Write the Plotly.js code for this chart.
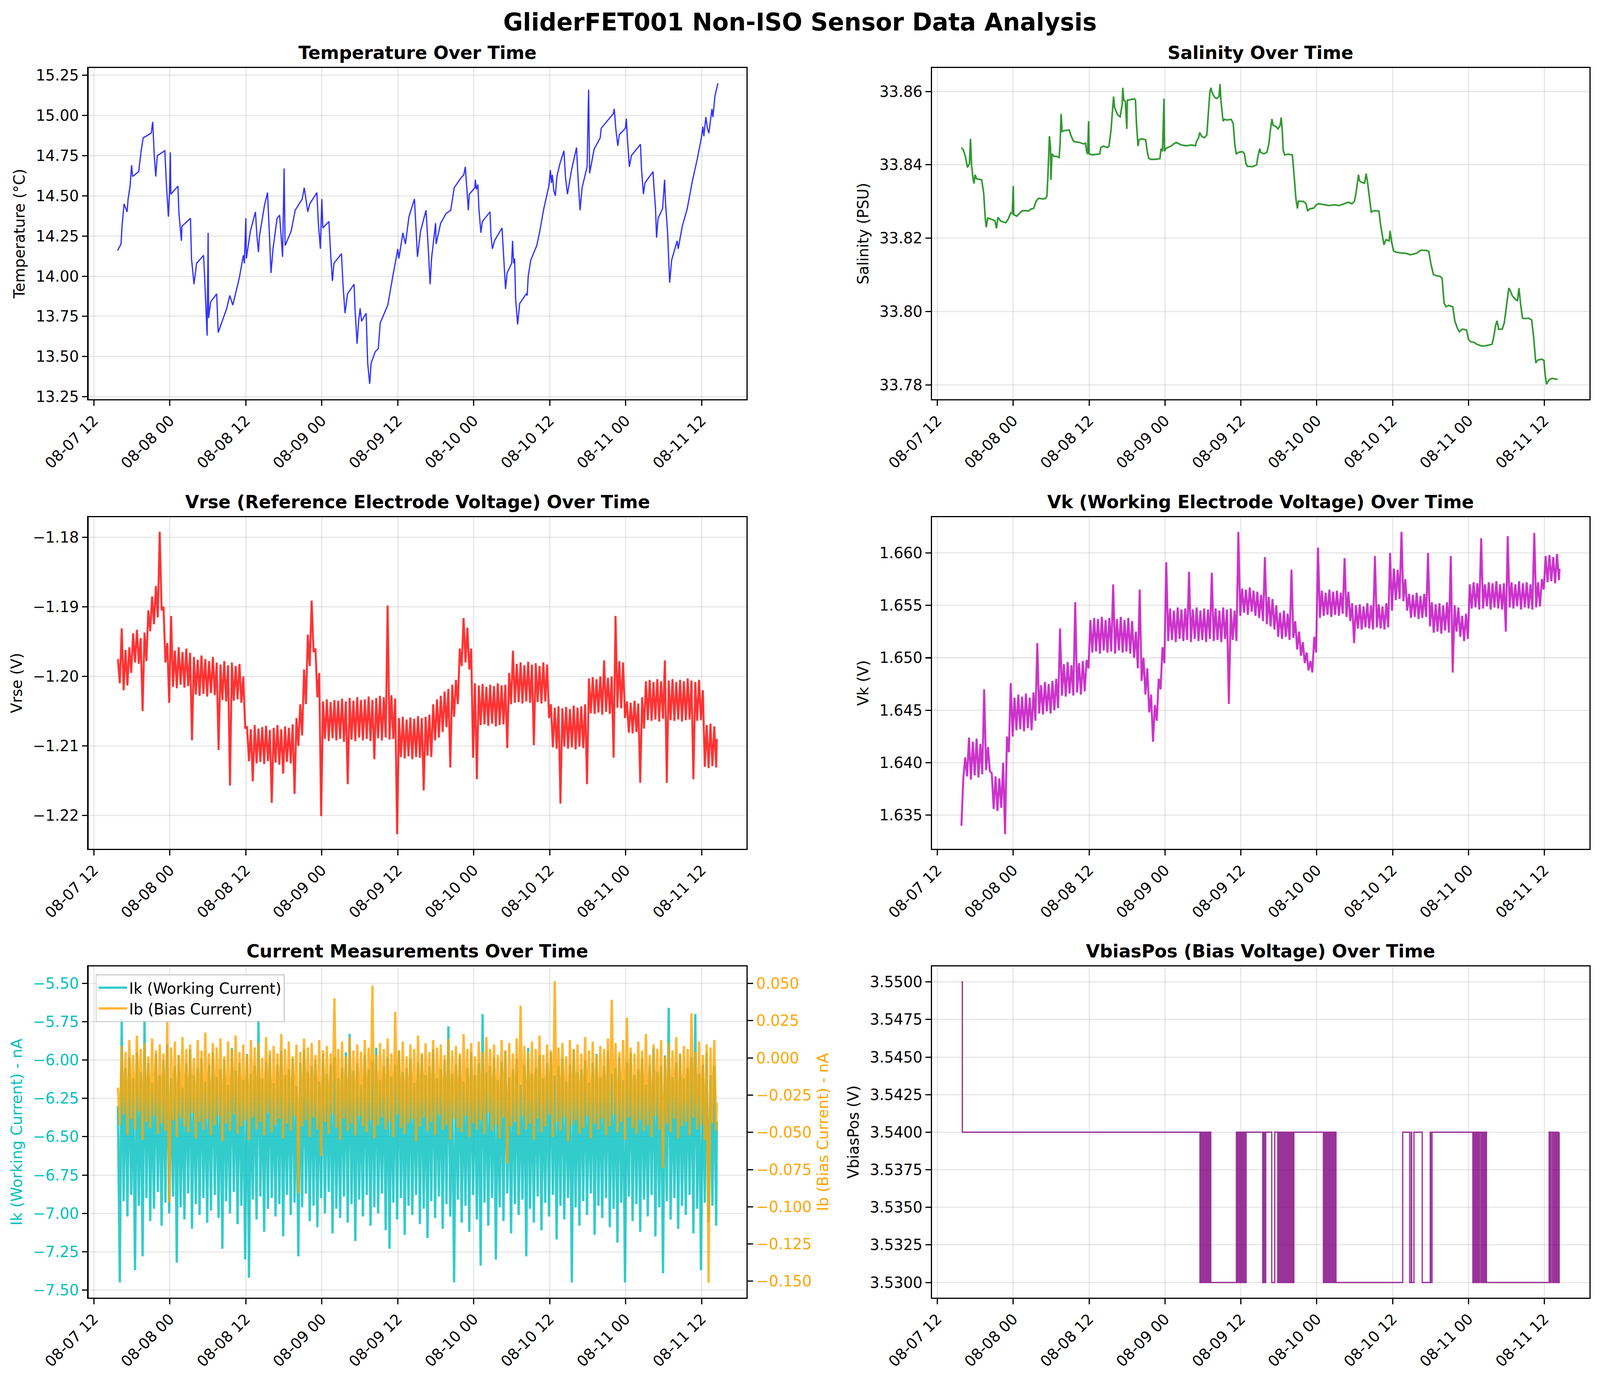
<!DOCTYPE html>
<html>
<head>
<meta charset="utf-8">
<title>GliderFET001 Non-ISO Sensor Data Analysis</title>
<script src="https://cdn.plot.ly/plotly-3.0.1.min.js"></script>
<style>
    html, body { margin: 0; padding: 0; background: #ffffff; overflow: hidden; }
    #chart { width: 100vw; height: 100vh; }
</style>
</head>
<body>
<div id="chart"></div>
<script>
// Hours are counted from 2025-08-07 12:00
const tempHours = [3.74,4.29,4.45,4.77,5.25,5.41,5.72,5.96,6.12,7.08,7.47,7.79,9.06,9.30,9.54,9.78,10.02,11.21,11.45,11.77,11.93,12.08,12.16,13.28,13.44,13.83,13.91,15.26,15.42,15.82,16.22,17.33,17.49,17.89,18.05,18.13,18.44,19.40,19.64,20.99,21.47,21.94,22.98,23.61,23.77,24.01,24.09,24.72,25.52,25.76,26.00,26.16,26.95,27.43,27.75,27.98,28.30,28.94,29.34,29.81,30.05,30.21,31.16,31.80,32.91,33.23,33.79,34.11,35.22,35.46,35.78,36.01,36.17,37.13,37.37,37.68,37.92,39.11,39.35,39.67,40.07,41.10,41.26,41.58,41.82,42.06,42.29,43.01,43.25,43.57,43.80,44.44,44.92,45.24,46.43,47.22,48.02,48.18,48.81,49.21,49.77,50.64,50.88,51.12,51.60,52.47,52.87,53.11,53.34,53.74,53.98,54.06,54.78,55.65,56.37,56.92,57.96,58.43,58.67,58.91,59.15,59.31,60.18,60.26,60.42,60.66,60.82,61.14,61.37,62.57,62.73,62.96,63.28,64.47,64.71,65.03,65.27,65.99,66.14,66.30,66.46,66.62,66.94,67.26,68.29,68.45,68.61,69.01,69.96,70.44,71.07,71.87,72.11,72.27,72.42,72.66,72.90,73.14,73.62,74.25,74.49,74.81,75.45,76.24,76.48,76.80,77.12,77.91,78.15,78.31,79.02,79.98,80.14,81.01,82.04,82.20,82.44,82.76,83.00,83.95,84.11,84.27,84.59,84.91,86.34,86.50,86.81,87.05,88.32,88.48,88.72,88.88,89.12,89.84,90.15,90.31,90.63,90.95,91.27,92.14,92.30,92.94,93.73,94.53,95.32,95.96,96.20,96.35,96.67,96.91,97.15,97.63,97.79,98.10,98.58];
const tempValues = [14.16,14.20,14.31,14.45,14.40,14.48,14.56,14.69,14.62,14.65,14.78,14.86,14.89,14.96,14.75,14.62,14.75,14.78,14.58,14.37,14.51,14.77,14.51,14.56,14.39,14.22,14.31,14.36,14.11,13.95,14.08,14.13,14.00,13.63,14.27,13.74,13.84,13.89,13.65,13.80,13.88,13.82,13.99,14.13,14.08,14.36,14.11,14.28,14.40,14.25,14.15,14.25,14.44,14.52,14.24,14.02,14.17,14.36,14.38,14.12,14.67,14.19,14.28,14.41,14.48,14.55,14.40,14.45,14.52,14.33,14.17,14.48,14.30,14.34,14.16,13.97,14.08,14.14,13.95,13.77,13.89,13.95,13.79,13.58,13.72,13.80,13.72,13.77,13.46,13.33,13.46,13.53,13.55,13.71,13.82,14.00,14.17,14.11,14.27,14.20,14.37,14.48,14.30,14.12,14.28,14.41,14.14,13.95,14.11,14.24,14.33,14.20,14.33,14.39,14.41,14.55,14.61,14.63,14.68,14.55,14.41,14.51,14.55,14.60,14.54,14.57,14.42,14.27,14.34,14.40,14.25,14.17,14.22,14.30,14.13,13.92,14.02,14.08,14.22,14.08,14.11,13.86,13.70,13.83,13.89,13.88,14.00,14.10,14.19,14.28,14.42,14.56,14.66,14.58,14.63,14.53,14.50,14.62,14.70,14.78,14.62,14.51,14.66,14.80,14.61,14.41,14.55,14.68,15.16,14.64,14.79,14.86,14.92,14.96,15.01,15.04,14.92,14.81,14.88,14.92,14.98,14.86,14.68,14.75,14.82,14.67,14.51,14.58,14.65,14.55,14.42,14.24,14.36,14.42,14.60,14.45,14.27,13.96,14.10,14.22,14.17,14.31,14.42,14.59,14.73,14.86,14.93,14.87,14.99,14.92,14.89,15.04,14.99,15.12,15.20];

const salHours = [3.79,4.11,4.43,4.75,5.07,5.24,5.40,5.64,5.80,5.96,6.20,7.01,7.33,7.57,7.73,7.97,8.78,9.10,9.34,9.58,9.99,10.79,11.20,11.60,11.84,12.00,12.08,12.56,13.05,13.45,14.01,14.42,14.82,15.22,15.62,16.03,16.67,17.07,17.32,17.48,17.72,17.88,17.96,18.12,18.44,18.85,19.25,19.41,19.57,19.73,20.05,20.86,21.10,21.42,21.66,22.47,23.11,23.44,23.60,23.76,23.92,24.00,24.48,25.29,25.69,25.85,26.26,26.90,27.14,27.46,27.71,27.87,28.03,28.27,28.51,28.91,29.24,29.32,29.48,29.72,29.96,30.04,30.52,31.16,31.33,31.49,31.73,31.89,32.30,32.94,33.18,33.42,33.75,34.55,35.20,35.36,35.60,35.84,35.92,36.16,36.97,37.37,37.77,38.58,39.38,40.19,40.83,40.99,41.32,41.48,41.80,42.20,42.61,42.85,43.09,43.25,43.41,43.65,43.90,44.22,44.54,44.70,44.86,45.18,45.42,45.82,46.47,46.79,47.03,47.27,47.59,48.24,48.56,48.80,49.05,49.85,50.50,50.66,50.98,51.14,51.62,52.11,52.43,52.67,52.91,53.08,53.48,53.88,54.21,54.37,54.53,54.69,54.93,55.50,56.14,56.46,56.70,56.94,57.10,57.91,58.31,58.55,58.87,59.52,59.92,60.32,61.13,61.93,62.74,63.55,64.35,64.99,65.56,65.96,66.20,66.36,66.60,66.77,67.17,67.57,67.81,68.06,68.38,68.62,68.86,69.34,69.83,70.07,70.39,70.63,70.96,71.44,71.60,71.84,72.16,72.57,73.21,74.02,74.82,75.79,76.43,77.24,77.72,78.04,78.45,78.85,79.49,79.82,80.14,80.46,80.86,81.51,81.83,82.23,82.55,83.04,83.68,84.00,84.33,84.89,85.30,86.10,86.75,87.72,87.96,88.28,88.52,88.76,89.33,89.65,89.81,90.13,90.37,90.61,90.93,91.42,91.74,91.98,92.22,92.54,92.95,93.51,93.99,94.31,94.64,94.96,95.60,95.93,96.09,96.33,96.73,97.21,97.78,98.10];
const salValues = [33.8447,33.8440,33.8423,33.8393,33.8403,33.8471,33.8400,33.8362,33.8349,33.8373,33.8362,33.8359,33.8322,33.8254,33.8230,33.8255,33.8250,33.8247,33.8227,33.8257,33.8247,33.8242,33.8252,33.8269,33.8267,33.8342,33.8264,33.8260,33.8269,33.8275,33.8275,33.8274,33.8280,33.8281,33.8301,33.8309,33.8307,33.8308,33.8315,33.8369,33.8478,33.8451,33.8359,33.8430,33.8423,33.8423,33.8420,33.8457,33.8539,33.8491,33.8493,33.8495,33.8481,33.8468,33.8463,33.8461,33.8457,33.8459,33.8437,33.8429,33.8519,33.8430,33.8427,33.8429,33.8430,33.8447,33.8451,33.8447,33.8451,33.8495,33.8549,33.8586,33.8556,33.8546,33.8536,33.8531,33.8566,33.8610,33.8576,33.8573,33.8498,33.8576,33.8578,33.8580,33.8576,33.8512,33.8451,33.8468,33.8471,33.8468,33.8437,33.8418,33.8415,33.8415,33.8417,33.8444,33.8437,33.8580,33.8437,33.8445,33.8451,33.8457,33.8461,33.8454,33.8452,33.8454,33.8452,33.8464,33.8474,33.8488,33.8478,33.8474,33.8481,33.8539,33.8597,33.8610,33.8600,33.8590,33.8583,33.8581,33.8586,33.8620,33.8573,33.8519,33.8524,33.8522,33.8524,33.8512,33.8457,33.8429,33.8434,33.8436,33.8430,33.8403,33.8396,33.8395,33.8400,33.8420,33.8444,33.8434,33.8430,33.8434,33.8457,33.8495,33.8525,33.8508,33.8505,33.8498,33.8508,33.8529,33.8498,33.8440,33.8427,33.8429,33.8427,33.8362,33.8308,33.8281,33.8301,33.8300,33.8294,33.8274,33.8280,33.8282,33.8291,33.8294,33.8291,33.8289,33.8291,33.8289,33.8294,33.8298,33.8294,33.8301,33.8322,33.8345,33.8373,33.8356,33.8352,33.8350,33.8376,33.8349,33.8308,33.8271,33.8274,33.8275,33.8274,33.8240,33.8206,33.8182,33.8196,33.8193,33.8220,33.8189,33.8165,33.8162,33.8160,33.8159,33.8155,33.8159,33.8167,33.8167,33.8164,33.8131,33.8101,33.8098,33.8096,33.8091,33.8023,33.8013,33.8017,33.8013,33.7975,33.7955,33.7945,33.7952,33.7950,33.7924,33.7918,33.7916,33.7911,33.7906,33.7907,33.7911,33.7928,33.7962,33.7975,33.7952,33.7952,33.7969,33.7989,33.8036,33.8064,33.8057,33.8043,33.8033,33.8030,33.8064,33.8023,33.7982,33.7981,33.7982,33.7977,33.7928,33.7860,33.7868,33.7870,33.7867,33.7833,33.7802,33.7814,33.7818,33.7816,33.7816];

// noisy channels: one set of samples read along the top of the band, one along the bottom
const upperHours = [3.8,4.4,5.0,5.6,6.2,6.8,7.4,8.0,8.6,9.2,9.8,10.4,11.0,11.6,12.2,12.8,13.4,14.0,14.6,15.2,15.8,16.4,17.0,17.6,18.2,18.8,19.4,20.0,20.6,21.2,21.8,22.4,23.0,23.6,24.2,24.8,25.4,26.0,26.6,27.2,27.8,28.4,29.0,29.6,30.2,30.8,31.4,32.0,32.6,33.2,33.8,34.4,35.0,35.6,36.2,36.8,37.4,38.0,38.6,39.2,39.8,40.4,41.0,41.6,42.2,42.8,43.4,44.0,44.6,45.2,45.8,46.4,47.0,47.6,48.2,48.8,49.4,50.0,50.6,51.2,51.8,52.4,53.0,53.6,54.2,54.8,55.4,56.0,56.6,57.2,57.8,58.4,59.0,59.6,60.2,60.8,61.4,62.0,62.6,63.2,63.8,64.4,65.0,65.6,66.2,66.8,67.4,68.0,68.6,69.2,69.8,70.4,71.0,71.6,72.2,72.8,73.4,74.0,74.6,75.2,75.8,76.4,77.0,77.6,78.2,78.8,79.4,80.0,80.6,81.2,81.8,82.4,83.0,83.6,84.2,84.8,85.4,86.0,86.6,87.2,87.8,88.4,89.0,89.6,90.2,90.8,91.4,92.0,92.6,93.2,93.8,94.4,95.0,95.6,96.2,96.8,97.4,98.0,98.4];
const lowerHours = [4.1,4.7,5.3,5.9,6.5,7.1,7.7,8.3,8.9,9.5,10.1,10.7,11.3,11.9,12.5,13.1,13.7,14.3,14.9,15.5,16.1,16.7,17.3,17.9,18.5,19.1,19.7,20.3,20.9,21.5,22.1,22.7,23.3,23.9,24.5,25.1,25.7,26.3,26.9,27.5,28.1,28.7,29.3,29.9,30.5,31.1,31.7,32.3,32.9,33.5,34.1,34.7,35.3,35.9,36.5,37.1,37.7,38.3,38.9,39.5,40.1,40.7,41.3,41.9,42.5,43.1,43.7,44.3,44.9,45.5,46.1,46.7,47.3,47.9,48.5,49.1,49.7,50.3,50.9,51.5,52.1,52.7,53.3,53.9,54.5,55.1,55.7,56.3,56.9,57.5,58.1,58.7,59.3,59.9,60.5,61.1,61.7,62.3,62.9,63.5,64.1,64.7,65.3,65.9,66.5,67.1,67.7,68.3,68.9,69.5,70.1,70.7,71.3,71.9,72.5,73.1,73.7,74.3,74.9,75.5,76.1,76.7,77.3,77.9,78.5,79.1,79.7,80.3,80.9,81.5,82.1,82.7,83.3,83.9,84.5,85.1,85.7,86.3,86.9,87.5,88.1,88.7,89.3,89.9,90.5,91.1,91.7,92.3,92.9,93.5,94.1,94.7,95.3,95.9,96.5,97.1,97.7,98.3];

const vrseUpper = [-1.1975,-1.1931,-1.1962,-1.1958,-1.1938,-1.1933,-1.1945,-1.1937,-1.1905,-1.1885,-1.1870,-1.1792,-1.1900,-1.1952,-1.1913,-1.1963,-1.1958,-1.1965,-1.1960,-1.1966,-1.1972,-1.1976,-1.1970,-1.1975,-1.1978,-1.1972,-1.1980,-1.1983,-1.1978,-1.1984,-1.1980,-1.1985,-1.1982,-1.2000,-1.2072,-1.2076,-1.2070,-1.2075,-1.2073,-1.2071,-1.2077,-1.2074,-1.2070,-1.2076,-1.2072,-1.2074,-1.2069,-1.2060,-1.2040,-1.1990,-1.1940,-1.1891,-1.1960,-1.1995,-1.2036,-1.2033,-1.2037,-1.2034,-1.2035,-1.2032,-1.2036,-1.2031,-1.2035,-1.2030,-1.2034,-1.2033,-1.2029,-1.2034,-1.2031,-1.2028,-1.2030,-1.1898,-1.2027,-1.2032,-1.2060,-1.2058,-1.2062,-1.2059,-1.2061,-1.2057,-1.2060,-1.2058,-1.2055,-1.2040,-1.2033,-1.2028,-1.2022,-1.2018,-1.2012,-1.2005,-1.1960,-1.1916,-1.1930,-1.1960,-1.2010,-1.2013,-1.2011,-1.2015,-1.2012,-1.2014,-1.2010,-1.2013,-1.2012,-1.1995,-1.1963,-1.1982,-1.1980,-1.1984,-1.1979,-1.1983,-1.1981,-1.1985,-1.1980,-1.1983,-1.2040,-1.2045,-1.2043,-1.2046,-1.2044,-1.2047,-1.2042,-1.2045,-1.2043,-1.2040,-1.2003,-1.2001,-1.2004,-1.2000,-1.1977,-1.2002,-1.2000,-1.1913,-1.1978,-1.1980,-1.2036,-1.2038,-1.2035,-1.2039,-1.2030,-1.2007,-1.2005,-1.2008,-1.2004,-1.2007,-1.1977,-1.2006,-1.2004,-1.2008,-1.2005,-1.2007,-1.2003,-1.2006,-1.2008,-1.2005,-1.2020,-1.2070,-1.2068,-1.2072,-1.2090];
const vrseLower = [-1.2010,-1.2020,-1.2013,-1.1995,-1.1980,-1.1982,-1.2050,-1.1978,-1.1935,-1.1925,-1.1915,-1.1905,-1.1980,-1.2038,-1.2015,-1.2017,-1.2012,-1.2016,-1.2014,-1.2092,-1.2026,-1.2028,-1.2025,-1.2029,-1.2024,-1.2027,-1.2106,-1.2034,-1.2036,-1.2157,-1.2035,-1.2033,-1.2038,-1.2075,-1.2122,-1.2151,-1.2125,-1.2123,-1.2126,-1.2122,-1.2182,-1.2124,-1.2127,-1.2140,-1.2123,-1.2125,-1.2169,-1.2100,-1.2085,-1.2040,-1.1985,-1.1965,-1.2030,-1.2201,-1.2090,-1.2093,-1.2089,-1.2092,-1.2090,-1.2094,-1.2155,-1.2091,-1.2093,-1.2088,-1.2092,-1.2090,-1.2093,-1.2119,-1.2089,-1.2092,-1.2088,-1.2091,-1.2090,-1.2227,-1.2116,-1.2118,-1.2115,-1.2119,-1.2116,-1.2117,-1.2164,-1.2114,-1.2116,-1.2092,-1.2088,-1.2080,-1.2073,-1.2131,-1.2058,-1.2040,-1.1985,-1.1980,-1.1990,-1.2117,-1.2148,-1.2070,-1.2069,-1.2071,-1.2068,-1.2072,-1.2070,-1.2069,-1.2103,-1.2040,-1.2038,-1.2037,-1.2039,-1.2036,-1.2038,-1.2099,-1.2037,-1.2039,-1.2036,-1.2060,-1.2102,-1.2104,-1.2183,-1.2101,-1.2104,-1.2102,-1.2105,-1.2101,-1.2103,-1.2155,-1.2053,-1.2054,-1.2052,-1.2055,-1.2051,-1.2054,-1.2117,-1.2045,-1.2046,-1.2060,-1.2081,-1.2082,-1.2080,-1.2153,-1.2075,-1.2063,-1.2064,-1.2062,-1.2065,-1.2061,-1.2153,-1.2063,-1.2064,-1.2062,-1.2065,-1.2063,-1.2062,-1.2148,-1.2064,-1.2063,-1.2130,-1.2132,-1.2129,-1.2131];

const vkUpper = [1.6340,1.6405,1.6424,1.6420,1.6423,1.6418,1.6470,1.6415,1.6390,1.6387,1.6385,1.6400,1.6425,1.6476,1.6462,1.6465,1.6463,1.6466,1.6462,1.6467,1.6514,1.6474,1.6477,1.6475,1.6478,1.6480,1.6528,1.6494,1.6496,1.6493,1.6553,1.6495,1.6497,1.6498,1.6536,1.6538,1.6537,1.6539,1.6536,1.6538,1.6570,1.6537,1.6539,1.6536,1.6538,1.6535,1.6525,1.6565,1.6500,1.6490,1.6465,1.6455,1.6480,1.6510,1.6591,1.6547,1.6545,1.6548,1.6546,1.6547,1.6582,1.6546,1.6548,1.6545,1.6547,1.6546,1.6581,1.6547,1.6545,1.6548,1.6546,1.6547,1.6545,1.6620,1.6566,1.6565,1.6567,1.6564,1.6563,1.6560,1.6596,1.6558,1.6556,1.6550,1.6543,1.6545,1.6542,1.6584,1.6535,1.6525,1.6515,1.6505,1.6497,1.6520,1.6605,1.6564,1.6562,1.6565,1.6563,1.6564,1.6562,1.6595,1.6563,1.6552,1.6550,1.6551,1.6549,1.6552,1.6550,1.6597,1.6551,1.6549,1.6552,1.6600,1.6585,1.6584,1.6620,1.6575,1.6561,1.6560,1.6562,1.6559,1.6561,1.6600,1.6553,1.6551,1.6552,1.6550,1.6553,1.6597,1.6550,1.6548,1.6540,1.6542,1.6570,1.6572,1.6571,1.6614,1.6570,1.6572,1.6571,1.6573,1.6570,1.6571,1.6616,1.6572,1.6570,1.6573,1.6571,1.6572,1.6570,1.6619,1.6572,1.6575,1.6597,1.6598,1.6596,1.6599,1.6585];
const vkLower = [1.6385,1.6387,1.6384,1.6388,1.6386,1.6389,1.6393,1.6392,1.6356,1.6354,1.6357,1.6332,1.6410,1.6425,1.6431,1.6432,1.6430,1.6433,1.6431,1.6440,1.6447,1.6446,1.6449,1.6447,1.6450,1.6452,1.6464,1.6463,1.6466,1.6464,1.6467,1.6465,1.6468,1.6490,1.6505,1.6506,1.6504,1.6507,1.6505,1.6506,1.6504,1.6507,1.6505,1.6506,1.6504,1.6500,1.6490,1.6478,1.6465,1.6448,1.6420,1.6440,1.6470,1.6495,1.6516,1.6517,1.6515,1.6518,1.6516,1.6517,1.6515,1.6518,1.6516,1.6517,1.6515,1.6518,1.6516,1.6517,1.6515,1.6518,1.6456,1.6517,1.6516,1.6540,1.6543,1.6541,1.6544,1.6540,1.6538,1.6535,1.6532,1.6530,1.6527,1.6520,1.6518,1.6520,1.6517,1.6519,1.6508,1.6502,1.6495,1.6488,1.6486,1.6505,1.6538,1.6540,1.6541,1.6539,1.6541,1.6540,1.6542,1.6539,1.6535,1.6514,1.6528,1.6527,1.6529,1.6528,1.6527,1.6529,1.6528,1.6527,1.6529,1.6545,1.6555,1.6556,1.6554,1.6545,1.6538,1.6539,1.6537,1.6538,1.6539,1.6530,1.6524,1.6525,1.6523,1.6526,1.6524,1.6486,1.6525,1.6520,1.6516,1.6518,1.6547,1.6548,1.6546,1.6547,1.6549,1.6546,1.6548,1.6547,1.6546,1.6525,1.6548,1.6547,1.6549,1.6546,1.6548,1.6547,1.6546,1.6548,1.6549,1.6565,1.6572,1.6573,1.6571,1.6574];

const ikUpper = [-6.30,-5.73,-6.05,-5.98,-6.12,-5.95,-6.08,-5.74,-6.02,-6.15,-5.96,-6.10,-6.00,-5.90,-6.12,-6.04,-5.97,-6.18,-6.02,-5.93,-6.10,-6.05,-5.99,-6.14,-6.03,-5.95,-6.11,-6.06,-6.00,-6.16,-5.92,-6.07,-6.02,-6.13,-5.96,-6.09,-6.04,-5.74,-6.12,-6.01,-5.97,-6.15,-6.03,-5.94,-6.10,-6.06,-5.99,-6.17,-6.02,-5.93,-6.08,-6.04,-6.00,-6.14,-5.96,-6.09,-6.03,-5.98,-6.12,-6.05,-5.95,-5.83,-6.07,-6.02,-6.16,-5.97,-6.06,-6.01,-5.92,-6.13,-6.04,-5.98,-6.11,-6.03,-5.94,-6.08,-6.05,-5.99,-6.15,-6.02,-5.96,-6.10,-6.04,-5.93,-6.12,-6.06,-6.00,-5.78,-6.09,-6.03,-5.97,-6.14,-6.05,-5.95,-6.10,-6.02,-5.70,-6.08,-6.04,-5.98,-6.13,-6.01,-5.94,-6.11,-6.06,-5.99,-6.16,-6.03,-5.92,-6.09,-6.05,-5.97,-6.12,-6.02,-5.95,-6.10,-6.04,-5.99,-6.14,-6.03,-5.93,-6.08,-6.06,-6.00,-6.15,-6.02,-5.96,-6.11,-6.04,-5.94,-6.09,-6.05,-5.98,-6.13,-6.01,-5.95,-6.10,-6.06,-5.99,-6.16,-6.03,-5.92,-6.08,-6.04,-5.97,-5.66,-6.11,-6.02,-5.96,-6.12,-6.05,-5.98,-5.70,-6.09,-6.03,-5.95,-6.10,-6.04,-6.40];
const ikLower = [-7.45,-6.92,-7.02,-6.88,-7.37,-6.95,-7.28,-6.90,-7.05,-6.97,-6.86,-7.08,-6.93,-7.00,-6.89,-7.32,-6.96,-7.04,-6.87,-7.10,-6.94,-7.01,-6.90,-7.06,-6.98,-6.88,-7.03,-7.23,-6.92,-7.00,-6.86,-7.07,-6.95,-7.30,-7.42,-6.91,-7.04,-6.89,-7.12,-6.97,-6.90,-7.02,-6.94,-7.15,-6.88,-7.01,-6.93,-7.28,-6.96,-6.87,-7.05,-6.95,-7.09,-6.90,-7.00,-6.86,-7.13,-6.97,-7.03,-6.89,-7.06,-6.94,-7.18,-6.91,-7.02,-6.88,-7.08,-6.96,-7.00,-6.87,-7.11,-7.23,-6.93,-7.04,-6.90,-7.14,-6.95,-7.01,-6.88,-7.07,-6.97,-7.16,-6.92,-7.03,-6.89,-7.10,-6.94,-7.02,-7.45,-6.91,-7.06,-6.95,-7.12,-6.88,-7.04,-7.34,-6.93,-7.08,-6.90,-7.30,-6.96,-7.05,-6.87,-7.13,-6.94,-7.01,-6.91,-7.28,-6.97,-7.06,-6.89,-7.11,-6.93,-7.02,-6.88,-7.17,-6.95,-7.04,-6.90,-7.45,-6.96,-7.08,-6.92,-7.01,-6.87,-7.14,-6.95,-7.03,-6.90,-7.09,-6.97,-7.19,-6.93,-7.45,-6.89,-7.05,-6.94,-7.12,-6.91,-7.02,-6.88,-7.15,-6.96,-7.39,-6.92,-7.04,-6.90,-7.10,-6.95,-7.01,-6.88,-7.13,-6.97,-7.37,-6.93,-7.06,-6.95,-7.08];

const ibUpper = [-0.020,0.008,0.004,0.012,0.002,0.015,0.006,0.010,0.001,0.013,0.005,0.009,0.003,0.024,0.007,0.011,0.002,0.014,0.006,0.009,0.000,0.012,0.005,0.017,0.003,0.010,0.007,0.013,0.001,0.011,0.006,0.015,0.004,0.009,0.002,0.012,0.007,0.010,0.000,0.014,0.005,0.008,0.003,0.016,0.006,0.011,0.001,0.009,0.004,0.013,0.007,0.010,0.002,0.012,0.005,0.008,0.003,0.040,0.006,0.011,0.001,0.014,0.005,0.009,0.004,0.012,0.007,0.0485,0.002,0.010,0.006,0.013,0.003,0.031,0.005,0.011,0.001,0.009,0.006,0.015,0.003,0.010,0.004,0.012,0.007,0.009,0.002,0.013,0.005,0.008,0.003,0.016,0.006,0.010,0.001,0.011,0.004,0.014,0.006,0.009,0.002,0.012,0.005,0.010,0.003,0.013,0.035,0.008,0.004,0.011,0.006,0.015,0.002,0.009,0.005,0.0515,0.007,0.010,0.001,0.012,0.006,0.009,0.003,0.014,0.005,0.011,0.002,0.008,0.006,0.013,0.039,0.010,0.004,0.012,0.027,0.007,0.003,0.011,0.005,0.016,0.002,0.009,0.006,0.012,0.001,0.010,0.005,0.014,0.003,0.008,0.006,0.030,0.004,0.011,0.002,0.009,0.007,0.012,-0.030];
const ibLower = [-0.045,-0.038,-0.052,-0.041,-0.048,-0.036,-0.055,-0.043,-0.047,-0.039,-0.051,-0.044,-0.049,-0.097,-0.042,-0.053,-0.040,-0.046,-0.050,-0.037,-0.054,-0.043,-0.048,-0.041,-0.052,-0.045,-0.039,-0.056,-0.044,-0.049,-0.038,-0.051,-0.046,-0.042,-0.055,-0.040,-0.048,-0.043,-0.052,-0.037,-0.050,-0.045,-0.041,-0.054,-0.044,-0.049,-0.039,-0.091,-0.046,-0.042,-0.053,-0.040,-0.048,-0.066,-0.043,-0.051,-0.038,-0.047,-0.055,-0.041,-0.049,-0.044,-0.052,-0.039,-0.046,-0.050,-0.042,-0.054,-0.045,-0.040,-0.048,-0.043,-0.053,-0.038,-0.047,-0.051,-0.044,-0.041,-0.056,-0.046,-0.040,-0.049,-0.043,-0.052,-0.038,-0.048,-0.045,-0.055,-0.041,-0.047,-0.050,-0.039,-0.053,-0.044,-0.048,-0.042,-0.051,-0.037,-0.049,-0.045,-0.054,-0.040,-0.071,-0.046,-0.043,-0.052,-0.039,-0.048,-0.044,-0.055,-0.041,-0.050,-0.046,-0.038,-0.053,-0.043,-0.049,-0.040,-0.056,-0.045,-0.042,-0.051,-0.047,-0.039,-0.054,-0.044,-0.048,-0.041,-0.052,-0.046,-0.038,-0.050,-0.043,-0.055,-0.040,-0.047,-0.051,-0.042,-0.049,-0.045,-0.053,-0.039,-0.048,-0.074,-0.044,-0.050,-0.041,-0.054,-0.046,-0.043,-0.052,-0.040,-0.048,-0.045,-0.055,-0.151,-0.044,-0.049];

// VbiasPos only switches between a few set points, so it is kept as change points
const vbHours = [3.79,3.95,41.53,41.68,41.83,41.98,42.13,42.28,42.43,42.58,42.73,42.88,43.03,43.18,43.24,47.29,47.44,47.59,47.74,47.88,48.08,48.23,48.38,48.53,48.68,48.83,51.45,51.60,51.75,51.93,52.88,53.36,53.83,53.98,54.13,54.28,54.43,54.58,54.73,54.88,55.03,55.18,55.33,55.48,55.63,55.78,55.93,56.08,56.23,56.38,61.05,61.20,61.35,61.50,61.65,61.80,61.95,62.10,62.25,62.40,62.55,62.70,62.85,63.00,63.04,73.59,74.70,74.95,75.02,75.37,76.68,77.95,78.02,78.23,84.69,84.84,84.99,85.14,85.29,85.44,85.59,85.74,85.96,86.11,86.26,86.41,86.56,86.71,86.84,96.75,96.90,97.05,97.27,97.42,97.57,97.72,97.87,98.02,98.17,98.34];
const vbValues = [3.55,3.54,3.53,3.54,3.53,3.54,3.53,3.54,3.53,3.54,3.53,3.54,3.53,3.54,3.53,3.54,3.53,3.54,3.53,3.54,3.53,3.54,3.53,3.54,3.53,3.54,3.53,3.54,3.53,3.54,3.53,3.54,3.53,3.54,3.53,3.54,3.53,3.54,3.53,3.54,3.53,3.54,3.53,3.54,3.53,3.54,3.53,3.54,3.53,3.54,3.53,3.54,3.53,3.54,3.53,3.54,3.53,3.54,3.53,3.54,3.53,3.54,3.53,3.54,3.53,3.54,3.53,3.54,3.53,3.54,3.53,3.54,3.53,3.54,3.53,3.54,3.53,3.54,3.53,3.54,3.53,3.54,3.53,3.54,3.53,3.54,3.53,3.54,3.53,3.54,3.53,3.54,3.53,3.54,3.53,3.54,3.53,3.54,3.53,3.54];

const FONT = 'DejaVu Sans';
const GRID = 'rgba(176,176,176,0.3)';
const COL_LEFT = [0.0553, 0.4666];
const COL_RIGHT = [0.5825, 0.9933];
const ROWS = [[0.7115, 0.9509], [0.3867, 0.6263], [0.0624, 0.3017]];

// sizes below are written for a 4469 px wide figure and scaled to the real window
const W = window.innerWidth;
const H = window.innerHeight;
const S = W / 4469;
const px = v => v * S;

const BASE_MS = Date.UTC(2025, 7, 7, 12, 0, 0);

// hours since the base time -> plotly date string
function toDate(h) {
    const d = new Date(BASE_MS + Math.round(h * 3600000));
    return d.toISOString().slice(0, 19).replace('T', ' ');
}

// put the top-of-band and bottom-of-band samples back in time order
function mergeSamples(hoursA, valsA, hoursB, valsB) {
    const pts = [];
    hoursA.forEach((h, i) => pts.push([h, valsA[i]]));
    hoursB.forEach((h, i) => pts.push([h, valsB[i]]));
    pts.sort((a, b) => a[0] - b[0]);
    return { hours: pts.map(p => p[0]), values: pts.map(p => p[1]) };
}

function xAxis(domain, anchor) {
    return {
        type: 'date',
        domain: domain,
        anchor: anchor,
        range: [toDate(-0.85), toDate(103.1)],
        tick0: toDate(0),
        dtick: 12 * 3600000,
        tickformat: '%m-%d %H',
        tickangle: -45,
        ticks: 'outside', ticklen: px(15), tickwidth: px(3.3), tickcolor: '#000',
        tickfont: { family: FONT, size: px(42), color: '#000' },
        showline: true, linecolor: '#000', linewidth: px(3.3), mirror: true,
        showgrid: true, gridcolor: GRID, gridwidth: px(3.3),
        zeroline: false, automargin: false
    };
}

function yAxis(domain, anchor, range, tick0, dtick, fmt, title, color) {
    color = color || '#000';
    return {
        domain: domain,
        anchor: anchor,
        range: range,
        tick0: tick0, dtick: dtick, tickformat: fmt,
        ticks: 'outside', ticklen: px(15), tickwidth: px(3.3), tickcolor: '#000',
        tickfont: { family: FONT, size: px(42), color: color },
        title: { text: title, font: { family: FONT, size: px(42), color: color }, standoff: px(18) },
        showline: true, linecolor: '#000', linewidth: px(3.3), mirror: true,
        showgrid: true, gridcolor: GRID, gridwidth: px(3.3),
        zeroline: false, automargin: false
    };
}

function line(hours, values, xa, ya, color, width, extra) {
    return Object.assign({
        type: 'scatter',
        mode: 'lines',
        x: hours.map(toDate),
        y: values,
        xaxis: xa,
        yaxis: ya,
        line: { color: color, width: px(width) },
        showlegend: false,
        hoverinfo: 'skip'
    }, extra || {});
}

function subTitle(text, x, y) {
    return {
        text: '<b>' + text + '</b>',
        xref: 'paper', yref: 'paper',
        x: x, y: y, xanchor: 'center', yanchor: 'middle',
        showarrow: false,
        font: { family: FONT, size: px(50), color: '#000' }
    };
}

const vrse = mergeSamples(upperHours, vrseUpper, lowerHours, vrseLower);
const vk = mergeSamples(upperHours, vkUpper, lowerHours, vkLower);
const ik = mergeSamples(upperHours, ikUpper, lowerHours, ikLower);
const ib = mergeSamples(upperHours, ibUpper, lowerHours, ibLower);

const traces = [
    line(tempHours, tempValues, 'x', 'y', 'rgba(0,0,255,0.8)', 3.5),
    line(salHours, salValues, 'x2', 'y2', 'rgba(0,128,0,0.8)', 4.5),
    line(vrse.hours, vrse.values, 'x3', 'y3', 'rgba(255,0,0,0.8)', 5.5),
    line(vk.hours, vk.values, 'x4', 'y4', 'rgba(191,0,191,0.8)', 5.5),
    line(ik.hours, ik.values, 'x5', 'y5', 'rgba(0,191,191,0.8)', 6.5,
        { name: 'Ik (Working Current)', showlegend: true }),
    line(ib.hours, ib.values, 'x5', 'y7', 'rgba(255,165,0,0.8)', 6.5,
        { name: 'Ib (Bias Current)', showlegend: true }),
    line(vbHours, vbValues, 'x6', 'y6', 'rgba(128,0,128,0.8)', 3.5,
        { line: { color: 'rgba(128,0,128,0.8)', width: px(3.5), shape: 'hv' } })
];

const ibAxis = yAxis(ROWS[2], 'x5', [-0.161, 0.0614], -0.15, 0.025, '.3f',
    'Ib (Bias Current) - nA', '#ffa500');
ibAxis.overlaying = 'y5';
ibAxis.side = 'right';
ibAxis.showgrid = false;
ibAxis.mirror = false;

const layout = {
    width: W,
    height: H,
    paper_bgcolor: '#ffffff',
    plot_bgcolor: '#ffffff',
    font: { family: FONT, size: px(42), color: '#000' },
    margin: { l: 0, r: 0, t: 0, b: 0, pad: 0 },
    showlegend: true,
    hovermode: false,
    title: {
        text: '<b>GliderFET001 Non-ISO Sensor Data Analysis</b>',
        x: 0.5, xanchor: 'center', y: 0.984, yanchor: 'middle',
        font: { family: FONT, size: px(67), color: '#000' }
    },
    legend: {
        x: 0.0597, y: 0.296, xanchor: 'left', yanchor: 'top',
        bgcolor: 'rgba(255,255,255,0.8)', bordercolor: '#cccccc', borderwidth: px(3),
        itemwidth: Math.max(30, px(80)),
        font: { family: FONT, size: px(42), color: '#000' }
    },
    xaxis: xAxis(COL_LEFT, 'y'),
    xaxis2: xAxis(COL_RIGHT, 'y2'),
    xaxis3: xAxis(COL_LEFT, 'y3'),
    xaxis4: xAxis(COL_RIGHT, 'y4'),
    xaxis5: xAxis(COL_LEFT, 'y5'),
    xaxis6: xAxis(COL_RIGHT, 'y6'),
    yaxis: yAxis(ROWS[0], 'x', [13.2345, 15.295], 13.25, 0.25, '.2f', 'Temperature (°C)'),
    yaxis2: yAxis(ROWS[0], 'x2', [33.7761, 33.8664], 33.78, 0.02, '.2f', 'Salinity (PSU)'),
    yaxis3: yAxis(ROWS[1], 'x3', [-1.2248, -1.1771], -1.22, 0.01, '.2f', 'Vrse (V)'),
    yaxis4: yAxis(ROWS[1], 'x4', [1.6318, 1.6634], 1.635, 0.005, '.3f', 'Vk (V)'),
    yaxis5: yAxis(ROWS[2], 'x5', [-7.549, -5.39], -7.5, 0.25, '.2f',
        'Ik (Working Current) - nA', '#00bfbf'),
    yaxis6: yAxis(ROWS[2], 'x6', [3.52899, 3.55103], 3.53, 0.0025, '.4f', 'VbiasPos (V)'),
    yaxis7: ibAxis,
    annotations: [
        subTitle('Temperature Over Time', 0.2609, 0.9619),
        subTitle('Salinity Over Time', 0.7879, 0.9619),
        subTitle('Vrse (Reference Electrode Voltage) Over Time', 0.2609, 0.6373),
        subTitle('Vk (Working Electrode Voltage) Over Time', 0.7879, 0.6373),
        subTitle('Current Measurements Over Time', 0.2609, 0.3127),
        subTitle('VbiasPos (Bias Voltage) Over Time', 0.7879, 0.3127)
    ]
};

Plotly.newPlot('chart', traces, layout, { displayModeBar: false, staticPlot: true });
</script>
</body>
</html>
